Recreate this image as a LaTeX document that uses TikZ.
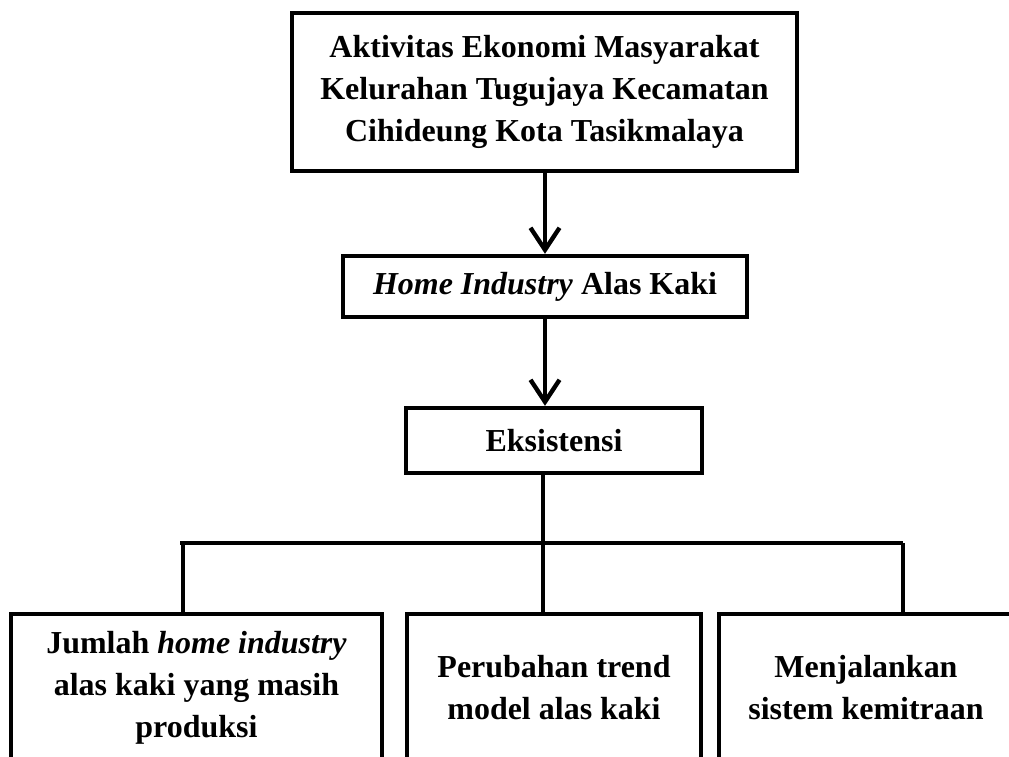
\documentclass[tikz,border=0pt]{standalone}
\usepackage{fontspec}
\setmainfont{Liberation Serif}
\usetikzlibrary{arrows.meta}
\begin{document}
\begin{tikzpicture}[
    box/.style={draw, line width=2.5pt, align=center, inner sep=0pt, font=\fontsize{18.2}{23.9}\selectfont\bfseries},
    arrow/.style={-{Straight Barb[length=0.44cm, width=0.58cm, line width=2.5pt]}, line width=2.5pt},
    line/.style={line width=2.5pt}
]
\useasboundingbox (0,0) rectangle (20.18,-15.12);
\clip (0,0) rectangle (20.18,-15.12);

% top of the chart
\node[box, minimum width=10.1cm, minimum height=3.16cm] (aktivitas) at (10.89, -1.84) {Aktivitas Ekonomi Masyarakat\\Kelurahan Tugujaya Kecamatan\\Cihideung Kota Tasikmalaya};
\node[box, minimum width=8.08cm, minimum height=1.22cm] (homeind) at (10.9, -5.73) {\textit{Home Industry} Alas Kaki};
\node[box, minimum width=5.92cm, minimum height=1.3cm] (eksistensi) at (11.08, -8.81) {Eksistensi};

\draw[arrow] (aktivitas.south -| homeind.north) -- (homeind.north);
\draw[arrow] (homeind.south) -- (homeind.south |- eksistensi.north);

% branches
\coordinate (hub) at (10.86, -10.86);
\coordinate (hubL) at (3.60, -10.86);
\coordinate (hubR) at (18.06, -10.86);
\coordinate (dropL) at (3.66, -10.86);

\node[box, minimum width=7.42cm, minimum height=2.96cm] (jumlah) at (3.93, -13.76) {Jumlah \textit{home industry}\\alas kaki yang masih\\produksi};
\node[box, minimum width=5.88cm, minimum height=2.96cm] (trend) at (11.08, -13.76) {Perubahan trend\\model alas kaki};
\node[box, minimum width=5.88cm, minimum height=2.96cm] (mitra) at (17.32, -13.76) {Menjalankan\\sistem kemitraan};

\draw[line] (eksistensi.south -| hub) -- (hub);
\draw[line] (hubL) -- (hubR);
\draw[line] (dropL) -- (dropL |- jumlah.north);
\draw[line] (hub) -- (hub |- trend.north);
\draw[line] (hubR) -- (hubR |- mitra.north);
\end{tikzpicture}
\end{document}
